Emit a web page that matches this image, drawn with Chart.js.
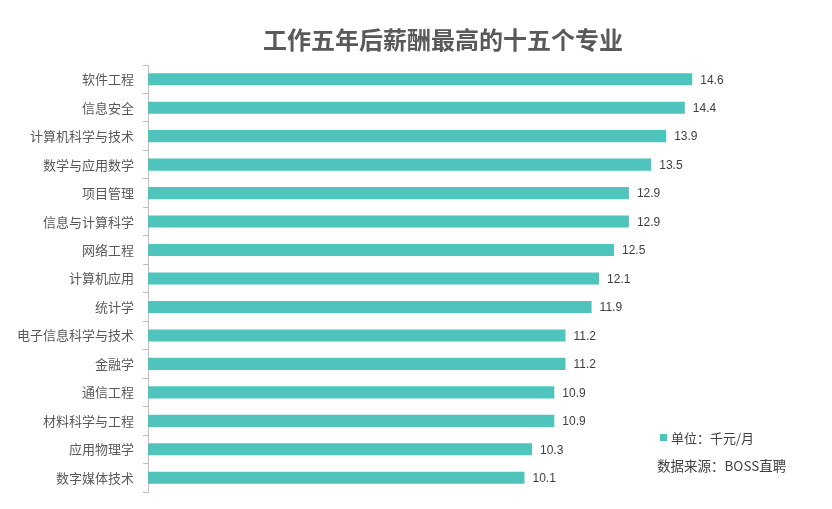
<!DOCTYPE html>
<html>
<head>
<meta charset="utf-8">
<script src="https://cdn.jsdelivr.net/npm/chart.js@4/dist/chart.umd.min.js"></script>
<style>
  html, body { margin: 0; padding: 0; background: #ffffff; }
  #wrap { width: 832px; height: 509px; position: relative; }
</style>
</head>
<body>
<div id="wrap"><canvas id="c" width="832" height="509"></canvas></div>
<script>
const chartTitle = '工作五年后薪酬最高的十五个专业';
const categories = ['软件工程', '信息安全', '计算机科学与技术', '数学与应用数学', '项目管理', '信息与计算科学', '网络工程', '计算机应用', '统计学', '电子信息科学与技术', '金融学', '通信工程', '材料科学与工程', '应用物理学', '数字媒体技术'];
const salaries = [14.6, 14.4, 13.9, 13.5, 12.9, 12.9, 12.5, 12.1, 11.9, 11.2, 11.2, 10.9, 10.9, 10.3, 10.1];
const unitLabel = '单位：千元/月';
const sourceLabel = '数据来源：BOSS直聘';

const BAR = '#4fc4bd';
const CJK = '"Noto Sans CJK SC", "Noto Sans", sans-serif';

const overlay = {
  id: 'overlay',
  afterDatasetsDraw(chart) {
    const ctx = chart.ctx;
    const meta = chart.getDatasetMeta(0);
    ctx.save();
    ctx.font = '12px "Liberation Sans", sans-serif';
    ctx.fillStyle = '#404040';
    ctx.textAlign = 'left';
    ctx.textBaseline = 'middle';
    meta.data.forEach((bar, i) => {
      ctx.fillText(salaries[i].toFixed(1), bar.x + 8, bar.y + 1);
    });
    ctx.restore();
  },
  afterDraw(chart) {
    const ctx = chart.ctx;
    ctx.save();
    ctx.font = 'bold 24px ' + CJK;
    ctx.fillStyle = '#595959';
    ctx.textAlign = 'center';
    ctx.textBaseline = 'middle';
    ctx.fillText(chartTitle, 443, 40);

    ctx.fillStyle = BAR;
    ctx.fillRect(660, 434, 7, 7);
    ctx.font = '13px ' + CJK;
    ctx.fillStyle = '#404040';
    ctx.textAlign = 'left';
    ctx.fillText(unitLabel, 671, 438);
    ctx.font = '13.5px ' + CJK;
    ctx.fillText(sourceLabel, 657, 466);
    ctx.restore();
  }
};

new Chart(document.getElementById('c'), {
  type: 'bar',
  data: {
    labels: categories,
    datasets: [{
      data: salaries,
      backgroundColor: BAR,
      borderWidth: 0,
      barPercentage: 0.85,
      categoryPercentage: 0.5
    }]
  },
  options: {
    indexAxis: 'y',
    responsive: false,
    animation: false,
    layout: { padding: { left: 0, right: 13, top: 65, bottom: 17 } },
    plugins: {
      legend: { display: false },
      title: { display: false },
      tooltip: { enabled: false }
    },
    scales: {
      x: {
        display: false,
        min: 0,
        max: 18
      },
      y: {
        afterFit(scale) { scale.width = 148; },
        border: { display: true, color: '#bfbfbf', width: 1 },
        grid: {
          display: true,
          drawOnChartArea: false,
          drawTicks: true,
          tickLength: 5,
          color: '#bfbfbf',
          offset: true
        },
        ticks: {
          padding: 9,
          color: '#595959',
          font: { size: 13, family: CJK }
        }
      }
    }
  },
  plugins: [overlay]
});
</script>
</body>
</html>
